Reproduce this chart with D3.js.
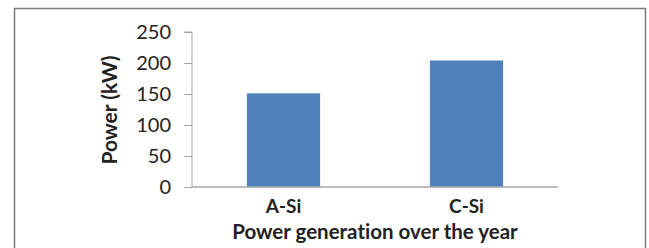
<!DOCTYPE html>
<html>
<head>
<meta charset="utf-8">
<script src="https://cdn.jsdelivr.net/npm/d3@7"></script>
<style>
  body { margin: 0; background: #fff; }
  svg { display: block; }
  text { font-family: Lato, "Open Sans", sans-serif; fill: #222; font-variant-ligatures: none; }
</style>
</head>
<body>
<svg id="chart"></svg>
<script>
var categories = ["A-Si", "C-Si"]
var power = [151, 204]
var yTicks = [0, 50, 100, 150, 200, 250]

var width = 649, height = 248
var margin = { top: 32, bottom: 61, left: 192, right: 91 }

var svg = d3.select("#chart")
  .attr("width", width)
  .attr("height", height)

// outer frame
svg.append("rect")
  .attr("x", 14.5).attr("y", 8.5)
  .attr("width", 631).attr("height", 260)
  .attr("fill", "none")
  .attr("stroke", "#7a7a7a")
  .attr("stroke-width", 1.5)

var xScale = d3.scaleBand()
  .domain(categories)
  .range([margin.left, width - margin.right])
  .paddingInner(0.6)
  .paddingOuter(0.3)

var yScale = d3.scaleLinear()
  .domain([0, 250])
  .range([height - margin.bottom, margin.top])

// bars
svg.append("g")
  .selectAll("rect")
  .data(categories)
  .enter()
  .append("rect")
  .attr("x", d => xScale(d))
  .attr("width", xScale.bandwidth())
  .attr("y", (d, i) => yScale(power[i]))
  .attr("height", (d, i) => yScale(0) - yScale(power[i]))
  .attr("fill", "#4f81bd")

// y axis
var yAxis = svg.append("g")
  .attr("transform", "translate(" + margin.left + ",0)")
  .call(d3.axisLeft(yScale).tickValues(yTicks).tickSize(8).tickPadding(13))
yAxis.select(".domain").attr("stroke", "#a6a6a6").attr("d", "M-8," + yScale(250) + "H0V" + yScale(0))
yAxis.selectAll(".tick line").attr("stroke", "#a6a6a6")
yAxis.selectAll(".tick text").style("font-size", "20px").attr("fill", "#222")

// x axis line
svg.append("line")
  .attr("x1", margin.left).attr("x2", width - margin.right)
  .attr("y1", yScale(0)).attr("y2", yScale(0))
  .attr("stroke", "#a6a6a6")
  .attr("stroke-width", 1.5)

// category labels
svg.append("g")
  .selectAll("text")
  .data(categories)
  .enter()
  .append("text")
  .attr("x", d => xScale(d) + xScale.bandwidth() / 2)
  .attr("y", 213)
  .attr("text-anchor", "middle")
  .style("font-size", "19px")
  .style("font-weight", "bold")
  .text(d => d)

svg.append("text")
  .attr("x", (margin.left + width - margin.right) / 2)
  .attr("y", 239)
  .attr("text-anchor", "middle")
  .style("font-size", "20.5px")
  .style("font-weight", "bold")
  .text("Power generation over the year")

svg.append("text")
  .attr("transform", "translate(117," + 110 + ") rotate(-90)")
  .attr("text-anchor", "middle")
  .style("font-size", "21px")
  .style("font-weight", "bold")
  .text("Power (kW)")
</script>
</body>
</html>
